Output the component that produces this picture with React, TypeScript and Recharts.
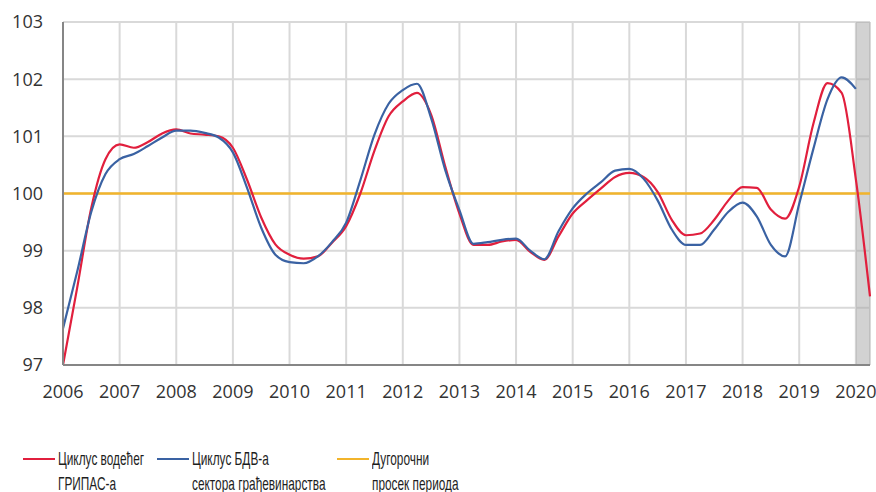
import { LineChart, Line, XAxis, YAxis, CartesianGrid, ReferenceLine, ReferenceArea } from 'recharts'

// quarterly values, 2006Q1 .. 2020Q2
const leadingCycle = [
  97.0, 98.35, 99.75, 100.6,
  100.86, 100.8, 100.9, 101.05,
  101.12, 101.05, 101.03, 101.0,
  100.8, 100.24, 99.58, 99.11,
  98.93, 98.86, 98.9, 99.14,
  99.43, 100.0, 100.75, 101.35,
  101.61, 101.76, 101.38, 100.47,
  99.65, 99.1, 99.1, 99.16,
  99.19, 98.98, 98.84, 99.25,
  99.65, 99.88, 100.09, 100.29,
  100.36, 100.29, 100.03, 99.54,
  99.27, 99.3, 99.54, 99.88,
  100.11, 100.1, 99.72, 99.56,
  100.12, 101.22, 101.93, 101.76,
  100.25, 98.2,
]

const gvaCycle = [
  97.64, 98.63, 99.68, 100.34,
  100.6, 100.69, 100.83, 100.98,
  101.1, 101.1, 101.06, 100.98,
  100.72, 100.1, 99.4, 98.93,
  98.8, 98.78, 98.9, 99.15,
  99.49, 100.23, 101.03, 101.57,
  101.81, 101.92, 101.32, 100.41,
  99.71, 99.12, 99.15, 99.19,
  99.21, 99.0, 98.85, 99.34,
  99.74, 100.0, 100.2, 100.4,
  100.43, 100.26, 99.88, 99.37,
  99.1, 99.1, 99.37, 99.68,
  99.84, 99.6, 99.1, 98.9,
  99.82, 100.78, 101.65, 102.03,
  101.83,
]

const longTermAverage = 100
const yearTicks = [2006, 2007, 2008, 2009, 2010, 2011, 2012, 2013, 2014, 2015, 2016, 2017, 2018, 2019, 2020]
const yTicks = [97, 98, 99, 100, 101, 102, 103]
const forecastFrom = 2020
const forecastTo = 2020.25

const legendItems = [
  { lines: ['Циклус водећег', 'ГРИПАС-а'], color: '#e11f3d', left: 23 },
  { lines: ['Циклус БДВ-а', 'сектора грађевинарства'], color: '#3a62a3', left: 157 },
  { lines: ['Дугорочни', 'просек периода'], color: '#f2b42b', left: 337 },
]

const data = leadingCycle.map((v, i) => ({
  t: 2006 + i / 4,
  red: v,
  blue: i < gvaCycle.length ? gvaCycle[i] : null,
}))

const tickStyle = { fontSize: 18, fill: '#333', fontFamily: 'Open Sans' }

export default function App() {
  return (
    <div style={{ position: 'absolute', left: 0, top: 0, width: 876, height: 492, background: '#fff', overflow: 'hidden' }}>
      <LineChart width={876} height={420} data={data} margin={{ top: 22, right: 6, left: 0, bottom: 0 }}>
        <CartesianGrid stroke="#d9d9d9" strokeWidth={2} />
        <XAxis
          type="number"
          dataKey="t"
          domain={[2006, 2020.25]}
          ticks={yearTicks}
          interval={0}
          height={55}
          tick={tickStyle}
          tickLine={false}
          tickMargin={14}
          axisLine={{ stroke: '#868686', strokeWidth: 2 }}
        />
        <YAxis
          domain={[97, 103]}
          ticks={yTicks}
          width={63}
          allowDataOverflow
          tick={tickStyle}
          tickLine={false}
          tickMargin={14}
          axisLine={{ stroke: '#868686', strokeWidth: 2 }}
        />
        <ReferenceLine y={longTermAverage} stroke="#f2b42b" strokeWidth={2.5} />
        <Line type="monotone" dataKey="red" stroke="#e11f3d" strokeWidth={2.2} dot={false} isAnimationActive={false} />
        <Line type="monotone" dataKey="blue" stroke="#3a62a3" strokeWidth={2.2} dot={false} isAnimationActive={false} />
        <ReferenceArea x1={forecastFrom} x2={forecastTo} fill="#a6a6a6" fillOpacity={0.5} stroke="none" />
      </LineChart>
      {legendItems.map((it) => (
        <div key={it.left} style={{ position: 'absolute', left: it.left, top: 446, display: 'flex', alignItems: 'flex-start' }}>
          <div style={{ width: 32, height: 2, background: it.color, marginTop: 12, marginRight: 3 }} />
          <div
            style={{
              fontFamily: '"Liberation Sans", Arial, sans-serif',
              fontSize: 18.5,
              lineHeight: '25px',
              color: '#1e1e1e',
              transform: 'scaleX(0.64)',
              transformOrigin: 'left top',
              whiteSpace: 'nowrap',
            }}
          >
            {it.lines.map((l) => (
              <div key={l}>{l}</div>
            ))}
          </div>
        </div>
      ))}
    </div>
  )
}
